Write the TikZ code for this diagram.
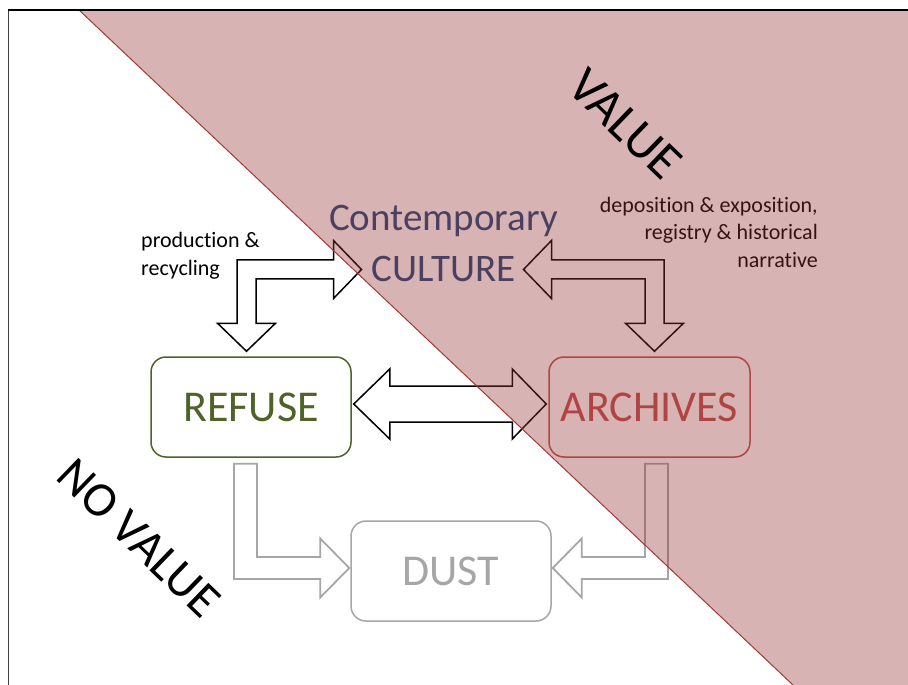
\documentclass[tikz,border=0pt]{standalone}
\usepackage{fontspec}
\setmainfont{Carlito}[Ligatures=CommonOff]
\usetikzlibrary{calc, positioning}
\definecolor{refusegreen}{HTML}{4F6228}
\definecolor{archivered}{HTML}{C0504D}
\definecolor{dustgray}{HTML}{A6A6A6}
\definecolor{cultureblue}{HTML}{1F497D}
\definecolor{valuered}{RGB}{150,50,50}
\definecolor{edgered}{RGB}{165,55,55}
\tikzset{box/.style = {draw, rounded corners=15pt, minimum width=200pt, minimum height=100pt, line width=1.5pt, fill=white, font=\fontsize{44}{50}\selectfont}}
\tikzset{blockarrow/.style = {draw, line width=1.5pt, fill=white, line join=miter}}
\tikzset{note/.style = {font=\fontsize{22}{27.5}\selectfont, inner sep=0pt}}
\tikzset{bigword/.style = {font=\fontsize{51}{54}\selectfont, rotate=-44}}

% bent arrow, two heads: #2 tip pointing down, #3 tip at the side, #4 = 1 (side tip right) or -1 (left)
\newcommand{\elbowarrow}[4]{
  \draw[#1] (#2) -- ++({(#4)*29},-28) -- ++({-(#4)*19.5},0)
    -- ($(#2|-#3)+({(#4)*9.5},9.5)$) -- ($(#3)+({-(#4)*28},9.5)$)
    -- ++(0,19.5) -- (#3) -- ++({-(#4)*28},-29) -- ++(0,19.5)
    -- ($(#2|-#3)+({-(#4)*9.5},-9.5)$) -- ($(#2)+({-(#4)*9.5},-28)$)
    -- ++({-(#4)*19.5},0) -- cycle;
}
% bent arrow, one head: #2 top of the shaft, #3 tip
\newcommand{\droparrow}[4]{
  \draw[#1] ($(#2)+({-(#4)*11.5},0)$) -- ($(#2)+({(#4)*11.5},0)$)
    -- ($(#2|-#3)+({(#4)*11.5},-11)$) -- ($(#3)+({-(#4)*29},-11)$)
    -- ++(0,-18.5) -- (#3) -- ++({-(#4)*29},29.5) -- ++(0,-18.5)
    -- ($(#2|-#3)+({-(#4)*11.5},11)$) -- cycle;
}
% straight arrow, two heads
\newcommand{\twoway}[3]{
  \draw[#1] (#2) -- ++(36,-35) -- ++(0,17) -- ($(#3)+(-34,-18)$)
    -- ++(0,-17) -- (#3) -- ++(-34,35) -- ++(0,-17)
    -- ($(#2)+(36,18)$) -- ++(0,17) -- cycle;
}

\begin{document}
\begin{tikzpicture}[x=1pt, y=-1pt]
  \tikzset{culturetext/.style = {anchor=base, inner sep=0pt, text=cultureblue, font=\fontsize{39}{48}\selectfont}}
  \useasboundingbox (0,0) rectangle (908,685);

  \path (251,407) node[box, draw=refusegreen, text=refusegreen] (refuse) {REFUSE}
      ++(398.5,0) node[box, draw=archivered, text=archivered, minimum width=201pt] (archives) {ARCHIVES}
      ++(-198.5,164) node[box, draw=dustgray, text=dustgray] (dust) {DUST};
  \path (443.5,230) node[culturetext] (contemp) {Contemporary}
      ++(0,51) node[culturetext] (culture) {CULTURE};

  % base of a multi-line node = its last line
  \node[note, anchor=base west, align=left] (prodlabel) at (141,275) {production \&\\recycling};
  \node[note, anchor=base east, align=right] (depolabel) at (818,267) {deposition \& exposition,\\registry \& historical\\narrative};

  \coordinate (refuse-in) at ($(refuse.north)+(-4.5,-5)$);
  \coordinate (archives-in) at ($(archives.north)+(5,-5)$);
  \coordinate (culture-w) at ($(culture.west)+(-10,1)$);
  \coordinate (culture-e) at ($(culture.east)+(8,1)$);
  \coordinate (refuse-e) at ($(refuse.east)+(2,-3)$);
  \coordinate (archives-w) at ($(archives.west)+(-2,-3)$);
  \coordinate (refuse-out) at ($(refuse.south)+(-5.5,6)$);
  \coordinate (archives-out) at ($(archives.south)+(7,6)$);
  \coordinate (dust-w) at ($(dust.west)+(-1,-3)$);
  \coordinate (dust-e) at ($(dust.east)+(1,-3)$);

  \elbowarrow{blockarrow}{refuse-in}{culture-w}{1}
  \elbowarrow{blockarrow}{archives-in}{culture-e}{-1}
  \twoway{blockarrow}{refuse-e}{archives-w}
  \foreach \i/\o/\s in {refuse-out/dust-w/1, archives-out/dust-e/-1}
  {
    \droparrow{blockarrow, draw=dustgray, line width=1.8pt}{\i}{\o}{\s}
  }

  % the value side
  \fill[valuered, fill opacity=0.37] (79,10) -- (908,10) -- (908,685) -- (793,685) -- cycle;
  \draw[edgered, line width=1pt] (79,10) -- (793,685);
  \node[bigword] (value) at (625,124) {VALUE};
  \node[bigword, font=\fontsize{49}{52}\selectfont] (novalue) at (139,538) {NO VALUE};

  \draw[black!75, line width=1.5pt] (8.5,685) -- (8.5,10);
  \draw[line width=1.5pt] (7.75,10) -- (908,10);
\end{tikzpicture}
\end{document}
